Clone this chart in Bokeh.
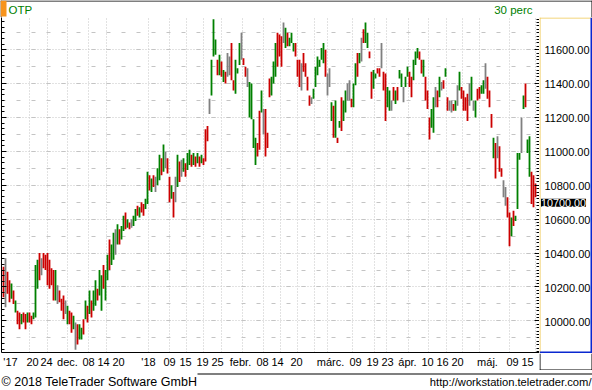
from bokeh.plotting import figure
from bokeh.layouts import column, row
from bokeh.models import (Range1d, FixedTicker, SingleIntervalTicker, LinearAxis,
                          Label, BoxAnnotation, ColumnDataSource)
from bokeh.core.properties import value
from bokeh.embed import file_html
from bokeh.resources import INLINE

# ---------------- data ----------------
symbol = "OTP"
interval_label = "30 perc"
last_price = 10700

highs = [
    10320, 10370, 10290, 10240, 10220, 10180, 10120, 10060, 10050, 10040,
    10050, 10040, 10050, 10050, 10030, 10050, 10330, 10360, 10400, 10370,
    10400, 10390, 10400, 10360, 10310, 10300, 10300, 10210, 10180, 10130,
    10150, 10120, 10090, 10060, 10050, 10030, 9990, 9980, 9980, 9960,
    10010, 10120, 10090, 10180, 10120, 10180, 10240, 10190, 10300, 10270,
    10330, 10300, 10390, 10480, 10450, 10520, 10540, 10570, 10540, 10560,
    10620, 10640, 10600, 10580, 10600, 10620, 10660, 10680, 10670, 10700,
    10690, 10720, 10880, 10860, 10840, 10860, 10850, 10900, 10980, 10960,
    11040, 11000, 10960, 10850, 10800, 10760, 10850, 10980, 10940, 10950,
    10960, 10930, 10990, 11010, 10980, 10990, 10970, 10990, 10970, 10980,
    10960, 11130, 11150, 11310, 11540, 11780, 11660, 11540, 11570, 11530,
    11480, 11470, 11580, 11560, 11640, 11420, 11540, 11490, 11640, 11700,
    11550, 11500, 11490, 11410, 11400, 11190, 11080, 11050, 11240, 11360,
    11250, 11250, 11110, 11430, 11440, 11530, 11640, 11700, 11690, 11680,
    11760, 11730, 11700, 11670, 11700, 11640, 11640, 11540, 11540, 11520,
    11580, 11520, 11440, 11330, 11320, 11370, 11500, 11560, 11540, 11610,
    11640, 11600, 11460, 11490, 11290, 11270, 11300, 11080, 11180, 11320,
    11300, 11360, 11400, 11420, 11310, 11400, 11520, 11580, 11580, 11670,
    11720, 11760, 11700, 11590, 11470, 11480, 11460, 11490, 11490, 11640,
    11470, 11460, 11380, 11360, 11300, 11380, 11360, 11380, 11480, 11460,
    11380, 11440, 11500, 11470, 11440, 11540, 11590, 11610, 11590, 11540,
    11540, 11440, 11360, 11200, 11250, 11320, 11380, 11360, 11440, 11410,
    11420, 11490, 11320, 11300, 11300, 11280, 11300, 11390, 11470, 11380,
    11360, 11320, 11340, 11400, 11440, 11300, 11300, 11370, 11380, 11390,
    11420, 11520, 11440, 11360, 11220, 11080, 11050, 11090, 11030, 10900,
    10830, 10790, 10730, 10640, 10610, 10650, 10620, 10990, 10990, 11200,
    11330, 11400, 11070, 11090, 10880, 10860, 10810,
]
lows = [
    10140, 10080, 10160, 10110, 10130, 10100, 10050, 9980, 9950, 9980,
    9990, 9950, 9990, 9990, 9980, 10010, 10020, 10190, 10240, 10270,
    10310, 10300, 10210, 10190, 10210, 10120, 10120, 10100, 10110, 10060,
    10010, 10040, 9980, 9980, 9930, 9950, 9830, 9860, 9890, 9890,
    9920, 10010, 9990, 10040, 10020, 10060, 10090, 10120, 10150, 10060,
    10190, 10120, 10240, 10300, 10330, 10360, 10390, 10450, 10450, 10480,
    10530, 10540, 10550, 10540, 10550, 10560, 10590, 10620, 10610, 10640,
    10620, 10660, 10690, 10770, 10760, 10790, 10760, 10800, 10830, 10860,
    10880, 10900, 10870, 10700, 10720, 10610, 10700, 10790, 10820, 10850,
    10880, 10850, 10890, 10920, 10910, 10920, 10910, 10930, 10910, 10930,
    10920, 10940, 11060, 11220, 11330, 11560, 11570, 11450, 11450, 11440,
    11410, 11400, 11440, 11450, 11420, 11360, 11340, 11460, 11510, 11540,
    11510, 11440, 11380, 11200, 11190, 11020, 10920, 10970, 11010, 11230,
    11100, 10970, 11020, 11320, 11330, 11400, 11440, 11500, 11560, 11500,
    11640, 11610, 11620, 11620, 11640, 11590, 11560, 11440, 11380, 11360,
    11470, 11440, 11360, 11270, 11280, 11310, 11380, 11450, 11500, 11540,
    11520, 11440, 11330, 11380, 11180, 11080, 11080, 11050, 11140, 11120,
    11180, 11230, 11300, 11300, 11260, 11260, 11390, 11440, 11520, 11530,
    11640, 11640, 11610, 11550, 11310, 11370, 11430, 11460, 11440, 11490,
    11360, 11180, 11260, 11240, 11240, 11300, 11280, 11300, 11430, 11380,
    11290, 11380, 11440, 11380, 11320, 11420, 11510, 11550, 11540, 11460,
    11440, 11300, 11250, 11070, 11140, 11110, 11260, 11260, 11320, 11360,
    11370, 11440, 11240, 11240, 11230, 11240, 11240, 11270, 11360, 11310,
    11240, 11240, 11180, 11270, 11300, 11240, 11200, 11300, 11310, 11340,
    11340, 11370, 11310, 11260, 11140, 10960, 10840, 10960, 10880, 10850,
    10730, 10680, 10610, 10440, 10500, 10560, 10590, 10660, 10950, 10990,
    11250, 11260, 10990, 10850, 10690, 10670, 10730,
]
# bar direction: g = up, r = down, n = unchanged
moves = list(
    "rnrrgrgrrg" "rrgrrgggrn" "rrrrrrgnrr" "rngrrgnrgg" "rgrgrggrgg"
    "rggrggngrg" "grgrnggrgr" "rggrgrnggr" "gnrrgrngrn" "grggrgrgrg"
    "rrrngggrgr" "grnnrrgggn" "rrnggggrrg" "nrrrgggrrr" "ngrgggrrrn"
    "rrrrnggggg" "grnngrgrgr" "ggnnrggrgn" "rggrrggrrn" "rrggnrgrgg"
    "nggrrgggrr" "grrrggnrgn" "rgrnnrgngr" "rrrngngrrg" "gnrrrgrnrr"
    "nnrrgrgggn" "grggrrr"
)

# date axis: label positions and week grid positions, in bar units
tick_bars = [3.5, 14.5, 21.5, 32, 42.5, 50, 57.5, 72.5, 83, 91, 99.5, 107, 118.5,
             129.5, 137, 146.5, 163.5, 176, 184.5, 192, 202, 212, 219.5, 227, 242,
             254.5, 262]
tick_labels = ["'17", "20", "24", "dec.", "08", "14", "20", "'18", "09", "15", "19",
               "25", "febr.", "08", "14", "20", "márc.", "09", "19", "23", "ápr.",
               "10", "16", "20", "máj.", "09", "15"]
grid_bars = [13.2, 21.9, 32.2, 42.7, 51.5, 72.7, 83, 91.4, 100.2, 108.9, 119.4,
             130.2, 138.5, 147.2, 155.5, 161.9, 174.7, 185.5, 191.5, 202.7, 212.7,
             221.4, 229.7, 238, 253.2, 266]
price_levels = [10000, 10200, 10400, 10600, 10800, 11000, 11200, 11400, 11600]

copyright_text = "© 2018 TeleTrader Software GmbH"
url_text = "http://workstation.teletrader.com/"

# ---------------- style / layout ----------------
FONT = "Liberation Sans"
COLORS = {"g": "#008000", "r": "#cc0000", "n": "#808080"}
GRID = "#c4c4c4"
YELLOW = "#f0c850"
BLUE = "#0a28d0"
ORANGE = "#f7941d"
W = 592
HEAD_H, AXIS_H, PLOT_H, FOOT_H = 17, 17, 336, 20
SIDE_W = 53
MAIN_W = W - SIDE_W


def blank(width, height, x_range, y_range):
    f = figure(width=width, height=height, output_backend="svg", toolbar_location=None,
               tools="", x_range=x_range, y_range=y_range, x_axis_type=None,
               y_axis_type=None, min_border=0, min_border_left=0, min_border_right=0,
               min_border_top=0, min_border_bottom=0)
    f.outline_line_color = None
    f.background_fill_color = "white"
    f.border_fill_color = "white"
    return f


def box(f, color, left=None, right=None, top=None, bottom=None, **units):
    f.add_layout(BoxAnnotation(left=left, right=right, top=top, bottom=bottom,
                               fill_color=color, fill_alpha=1, line_color=None, **units))


# ---- header ----
head = blank(W, HEAD_H, Range1d(0, W), Range1d(HEAD_H, 0))
box(head, "black", 0, W, 0, 1)
box(head, "black", 0, 1, 0, HEAD_H)
box(head, "black", W - 1, W, 0, HEAD_H)
box(head, ORANGE, 0, 6, 0, 16)
head.add_layout(Label(x=8, y=9, text=symbol, text_font=FONT, text_font_size="11.5px",
                      text_color="#008000", text_baseline="middle"))
head.add_layout(Label(x=532, y=9, text=interval_label, text_font=FONT,
                      text_font_size="11.5px", text_color="#008000",
                      text_baseline="middle", text_align="right"))

# ---- main chart ----
main = figure(width=MAIN_W, height=PLOT_H + AXIS_H, output_backend="svg",
              toolbar_location=None, tools="",
              x_range=Range1d(-1, 268), y_range=Range1d(9813.5, 11790),
              min_border_left=1, min_border_right=0, min_border_top=0,
              min_border_bottom=AXIS_H, y_axis_location="right")
main.outline_line_color = None
main.background_fill_color = "white"
main.border_fill_color = "white"

src = ColumnDataSource(dict(x=list(range(len(highs))), hi=highs, lo=lows,
                            color=[COLORS[m] for m in moves]))
main.vbar(x="x", width=0.9, top="hi", bottom="lo", fill_color="color",
          line_color=None, source=src)

ya = main.yaxis[0]
ya.ticker = SingleIntervalTicker(interval=200, num_minor_ticks=10)
ya.axis_line_color = None
ya.major_tick_in, ya.major_tick_out = 5, 0
ya.minor_tick_in, ya.minor_tick_out = 3, 0
ya.major_tick_line_color = "black"
ya.minor_tick_line_color = "black"
ya.major_label_text_font_size = "0px"
ya.major_label_text_color = None
ya.major_label_standoff = 0

la = LinearAxis(ticker=SingleIntervalTicker(interval=200, num_minor_ticks=6),
                major_label_text_font_size="0px", major_label_text_color=None,
                major_label_standoff=0, major_tick_in=5, major_tick_out=0,
                minor_tick_in=3, minor_tick_out=0, axis_line_color="black",
                major_tick_line_color="black", minor_tick_line_color="black")
main.add_layout(la, "left")

xa = main.xaxis[0]
xa.ticker = FixedTicker(ticks=tick_bars)
xa.major_label_overrides = {float(t): l for t, l in zip(tick_bars, tick_labels)}
xa.major_tick_in, xa.major_tick_out = 0, 0
xa.minor_tick_line_color = None
xa.axis_line_color = "black"
xa.major_label_text_font = FONT
xa.major_label_text_font_size = "11px"
xa.major_label_text_color = "black"
xa.major_label_standoff = 3

main.xgrid.ticker = FixedTicker(ticks=grid_bars)
main.xgrid.grid_line_color = GRID
main.xgrid.grid_line_dash = "1 2"
main.ygrid.ticker = SingleIntervalTicker(interval=200, num_minor_ticks=2)
main.ygrid.grid_line_color = GRID
main.ygrid.grid_line_dash = "1 2"
main.ygrid.minor_grid_line_color = GRID
main.ygrid.minor_grid_line_dash = "4 11"

# ---- right price panel ----
side = blank(SIDE_W, PLOT_H, Range1d(0, SIDE_W), main.y_range)
box(side, YELLOW, 0, 1)
box(side, YELLOW, 0, SIDE_W, None, PLOT_H - 1, bottom_units="screen")
box(side, BLUE, SIDE_W - 2, SIDE_W)
box(side, BLUE, 0, SIDE_W, 2, None, top_units="screen")
lvl_src = ColumnDataSource(dict(y=price_levels, t=[f"{v:.2f}" for v in price_levels]))
side.text(x=5, y="y", text="t", source=lvl_src, text_font=value(FONT),
          text_font_size="11px", text_color="black", text_baseline="middle",
          text_align="left")
side.add_layout(Label(x=1.5, y=last_price, text=f"{last_price:.2f}", text_font=FONT,
                      text_font_size="10.8px", text_color="white",
                      background_fill_color="black", text_baseline="middle",
                      text_align="left"))

corner = blank(SIDE_W, AXIS_H, Range1d(0, SIDE_W), Range1d(AXIS_H, 0))
box(corner, "black", 0, 1, 0, AXIS_H)
box(corner, "black", SIDE_W - 1, SIDE_W, 0, AXIS_H)
box(corner, "black", 0, SIDE_W, AXIS_H - 1, AXIS_H)

# ---- footer ----
foot = blank(W, FOOT_H, Range1d(0, W), Range1d(FOOT_H, 0))
box(foot, "black", 197, W, 3, 4)
foot.add_layout(Label(x=1, y=11, text=copyright_text, text_font=FONT,
                      text_font_size="12.5px", text_color="black",
                      text_baseline="middle"))
foot.add_layout(Label(x=W - 1, y=11, text=url_text, text_font=FONT,
                      text_font_size="11.2px", text_color="black",
                      text_baseline="middle", text_align="right"))

layout = column(head, row(main, column(side, corner)), foot)
open("out.html", "w").write(file_html(layout, INLINE))
